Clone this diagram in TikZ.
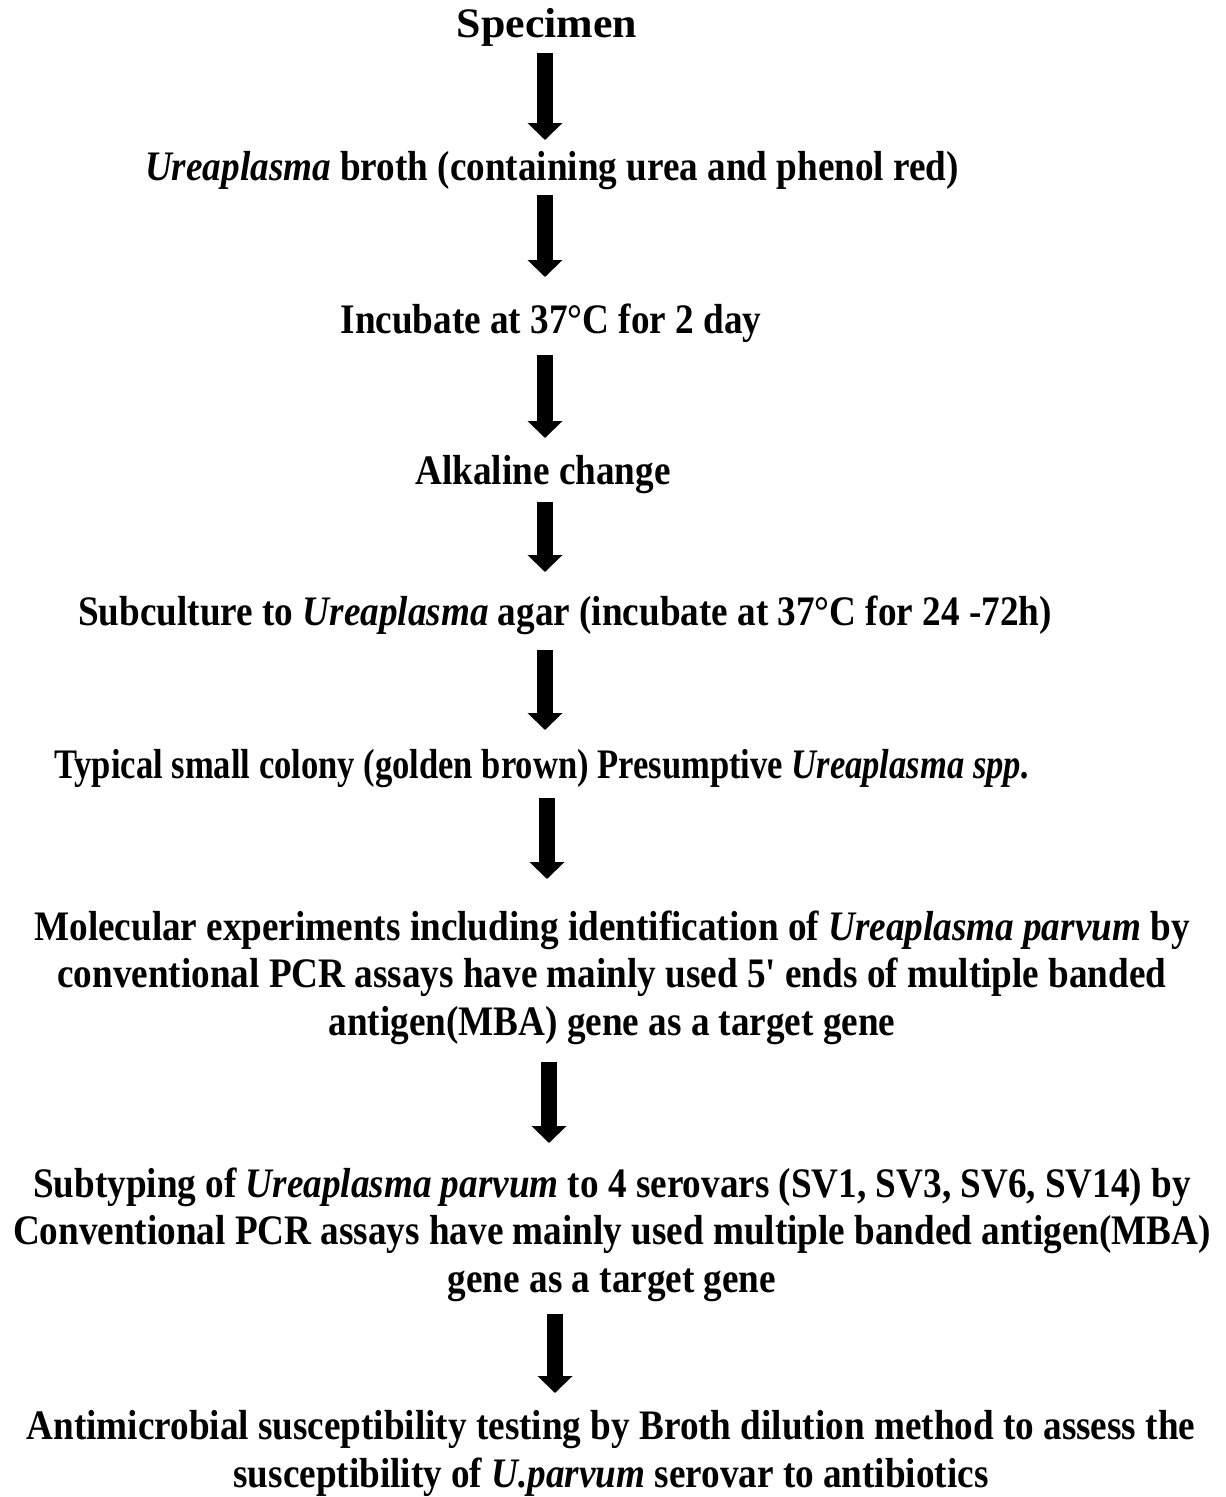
\documentclass[tikz,border=0pt]{standalone}
\usepackage{fontspec}
\setmainfont{Liberation Serif}[FakeStretch=0.885, Ligatures=TeXOff]
\usetikzlibrary{arrows.meta}
\begin{document}
\begin{tikzpicture}[x=1pt,y=-1pt,
  every node/.style={inner sep=0pt, font=\fontsize{42}{47.5}\selectfont\bfseries},
  txt/.style={anchor=base},
  flow/.style={line width=16pt, line cap=butt, -{Triangle[width=34pt,length=17pt]}}]
\useasboundingbox (0,0) rectangle (1226,1497);
\node[txt] (specimen) at (547,37) {\scalebox{1.18}[1]{Specimen}};
\node[txt] (broth) at (552,180) {\textit{Ureaplasma} broth (containing urea and phenol red)};
\node[txt] (incubate) at (551,333) {Incubate at 37°C for 2 day};
\node[txt] (alkaline) at (543,484) {Alkaline change};
\node[txt] (subculture) at (565,625) {Subculture to \textit{Ureaplasma} agar (incubate at 37°C for 24 -72h)};
\node[txt] (colony) at (542,778) {\scalebox{0.93}[1]{Typical small colony (golden brown) Presumptive \textit{Ureaplasma spp.}}};
\node[txt, align=center] (molecular) at (612,1035) {Molecular experiments including identification of \textit{Ureaplasma parvum} by\\ conventional PCR assays have mainly used 5' ends of multiple banded\\ antigen(MBA) gene as a target gene};
\node[txt, align=center] (subtyping) at (612,1292) {Subtyping of \textit{Ureaplasma parvum} to 4 serovars (SV1, SV3, SV6, SV14) by\\ Conventional PCR assays have mainly used multiple banded antigen(MBA)\\ gene as a target gene};
\node[txt, align=center] (ast) at (611,1487) {Antimicrobial susceptibility testing by Broth dilution method to assess the\\ susceptibility of \textit{U.parvum} serovar to antibiotics};
\coordinate (a1s) at (545,53);   \coordinate (a1e) at (545,140);
\coordinate (a2s) at (545,195);  \coordinate (a2e) at (545,277);
\coordinate (a3s) at (545,355);  \coordinate (a3e) at (545,438);
\coordinate (a4s) at (545,502);  \coordinate (a4e) at (545,572);
\coordinate (a5s) at (545,650);  \coordinate (a5e) at (545,730);
\coordinate (a6s) at (547,798);  \coordinate (a6e) at (547,879);
\coordinate (a7s) at (549,1062); \coordinate (a7e) at (549,1143);
\coordinate (a8s) at (555,1314); \coordinate (a8e) at (555,1393);
\foreach \i in {1,...,8} \draw[flow] (a\i s) -- (a\i e);
\end{tikzpicture}
\end{document}
